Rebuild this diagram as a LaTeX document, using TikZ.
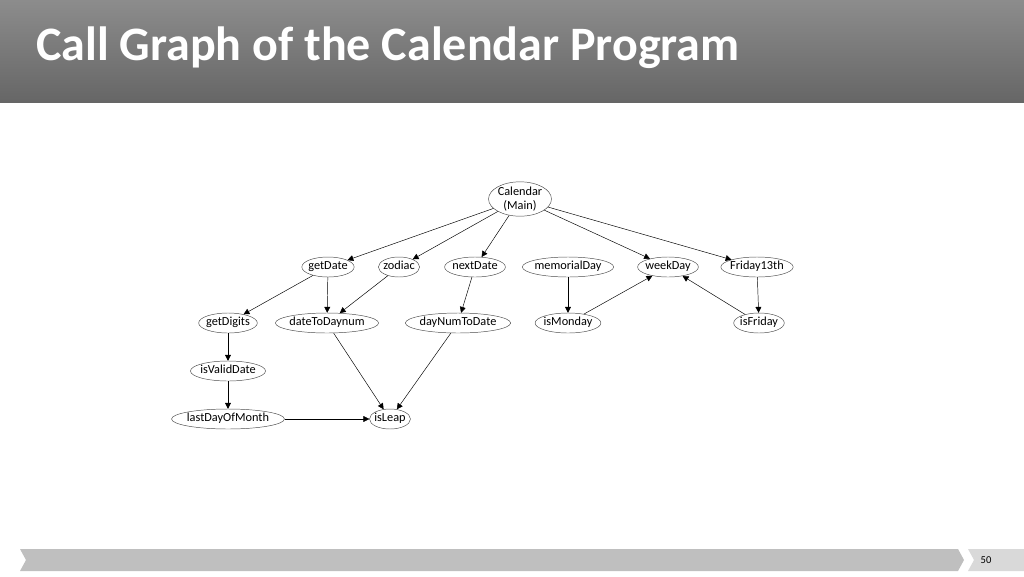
\documentclass[tikz,border=0pt]{standalone}
\usepackage{fontspec}
\setmainfont{Carlito}
\usetikzlibrary{shapes.geometric,arrows.meta}
\begin{document}
\begin{tikzpicture}[x=0.03cm,y=-0.03cm]
    \tikzstyle{every path}=[thin]
    \tikzstyle{fn}=[ellipse,draw=black!70,inner xsep=-1pt,inner ysep=1pt,text height=7pt,text depth=2pt,
                    minimum height=0.6cm,font=\fontsize{10.5}{12}\selectfont]
    \tikzstyle{call}=[-{Triangle[length=5pt,width=5pt]}]

    % page frame
    \useasboundingbox (0,0) rectangle (1024,576);
    \shade[top color=black!45,bottom color=black!60] (0,0) rectangle (1024,102);
    \node[anchor=west,text=white,font=\fontsize{41}{46}\selectfont\bfseries] (title) at (32,48) {Call Graph of the Calendar Program};
    \fill[black!25] (20,549) -- (958,549) -- (964,560) -- (958,571) -- (20,571) -- (26,560) -- cycle;
    \fill[black!15] (968,549) -- (1024,549) -- (1024,571) -- (968,571) -- (974,560) -- cycle;
    \node[font=\fontsize{9}{10}\selectfont] (page) at (986,560) {50};

    % functions
    \node[fn,align=center,text height=,text depth=,inner sep=0pt] (cal) at (520,199) {Calendar\\(Main)};
    \node[fn] (getDate) at (328,267) {getDate};
    \node[fn] (zodiac) at (399,267) {zodiac};
    \node[fn] (nextDate) at (475,267) {nextDate};
    \node[fn] (memDay) at (568,267) {memorialDay};
    \node[fn] (weekDay) at (668,267) {weekDay};
    \node[fn] (fri13) at (757,267) {Friday13th};
    \node[fn] (getDigits) at (228,323) {getDigits};
    \node[fn] (d2dn) at (327,323) {dateToDaynum};
    \node[fn] (dn2d) at (458,323) {dayNumToDate};
    \node[fn] (isMonday) at (568,323) {isMonday};
    \node[fn] (isFriday) at (759,323) {isFriday};
    \node[fn] (isValid) at (228,371) {isValidDate};
    \node[fn] (lastDay) at (228,419) {lastDayOfMonth};
    \node[fn] (isLeap) at (390,419) {isLeap};

    % calls
    \foreach \a/\b in {cal/getDate,cal/zodiac,cal/nextDate,cal/weekDay,cal/fri13,
                       getDate/getDigits,getDate/d2dn,zodiac/d2dn,nextDate/dn2d,
                       memDay/isMonday,isMonday/weekDay,isFriday/weekDay,fri13/isFriday,
                       getDigits/isValid,isValid/lastDay,lastDay/isLeap,d2dn/isLeap,dn2d/isLeap}
        \draw[call] (\a) -- (\b);
\end{tikzpicture}
\end{document}
